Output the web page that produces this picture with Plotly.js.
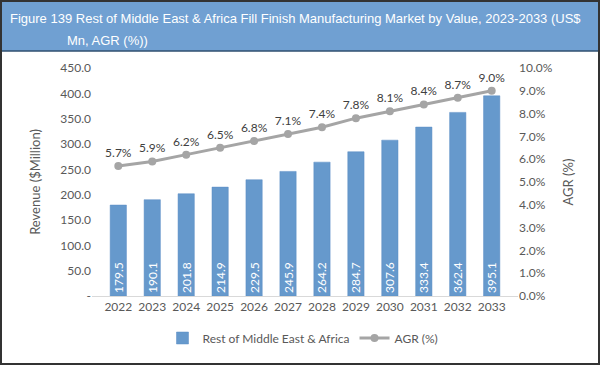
<!DOCTYPE html>
<html>
<head>
<meta charset="utf-8">
<script src="https://cdn.plot.ly/plotly-3.0.1.min.js"></script>
<style>html,body{margin:0;padding:0;background:#fff;}#chart{width:600px;height:365px;}</style>
</head>
<body>
<div id="chart"></div>
<script>
const years = ['2022','2023','2024','2025','2026','2027','2028','2029','2030','2031','2032','2033'];
const revenue = [179.5, 190.1, 201.8, 214.9, 229.5, 245.9, 264.2, 284.7, 307.6, 333.4, 362.4, 395.1];
const agr = [5.7, 5.9, 6.2, 6.5, 6.8, 7.1, 7.4, 7.8, 8.1, 8.4, 8.7, 9.0];
const leftTicks = [0, 50, 100, 150, 200, 250, 300, 350, 400, 450];
const leftTickText = ['-', '50.0', '100.0', '150.0', '200.0', '250.0', '300.0', '350.0', '400.0', '450.0'];
const rightTicks = [0,1,2,3,4,5,6,7,8,9,10];
const rightTickText = ['0.0%','1.0%','2.0%','3.0%','4.0%','5.0%','6.0%','7.0%','8.0%','9.0%','10.0%'];
const titleLine1 = 'Figure 139 Rest of Middle East & Africa Fill Finish Manufacturing Market by Value, 2023-2033 (US$';
const titleLine2 = 'Mn, AGR (%))';

const W = 600, H = 365;
const m = {l: 92, r: 82, t: 68, b: 69};
const pw = W - m.l - m.r, ph = H - m.t - m.b;
const px = x => (x - m.l) / pw;
const py = y => (H - m.b - y) / ph;

const fam = 'Lato, "Noto Sans", sans-serif';
const tickFont = {family: fam, size: 12, color: '#595959'};

const bars = {
  type: 'bar', x: years, y: revenue, name: 'Rest of Middle East & Africa',
  marker: {color: '#6699cc', line: {color: '#5b8dc4', width: 0.5}},
  width: 0.48,
  text: revenue.map(v => v.toFixed(1)), textposition: 'inside', insidetextanchor: 'start',
  textangle: -90, constraintext: 'none',
  textfont: {family: fam, size: 12, color: '#ffffff'},
  hoverinfo: 'skip'
};
const line = {
  type: 'scatter', x: years, y: agr, yaxis: 'y2', name: 'AGR (%)',
  mode: 'lines+markers+text',
  line: {color: '#a5a5a5', width: 3},
  marker: {color: '#a5a5a5', size: 8},
  text: agr.map(v => v.toFixed(1) + '%'), textposition: 'top center',
  textfont: {family: fam, size: 12, color: '#404040'},
  cliponaxis: false, hoverinfo: 'skip'
};

const layout = {
  width: W, height: H, margin: m,
  paper_bgcolor: '#ffffff', plot_bgcolor: '#ffffff',
  showlegend: true,
  uniformtext: {minsize: 11, mode: 'show'},
  legend: {orientation: 'h', x: px(303), xanchor: 'center', y: py(338), yanchor: 'middle',
           font: {family: fam, size: 12, color: '#595959'},
           itemwidth: 30, traceorder: 'normal'},
  xaxis: {type: 'category', tickfont: tickFont, showgrid: false, zeroline: false,
          showline: true, linecolor: '#d9d9d9', linewidth: 1, ticks: '', fixedrange: true},
  yaxis: {range: [0, 450], tickvals: leftTicks, ticktext: leftTickText, tickfont: tickFont,
          showgrid: false, zeroline: false, showline: false, ticks: '',
          title: {text: 'Revenue ($Million)', font: {family: fam, size: 13, color: '#595959'}, standoff: 16}},
  yaxis2: {range: [0, 10], overlaying: 'y', side: 'right', tickvals: rightTicks, ticktext: rightTickText,
           tickfont: tickFont, showgrid: false, zeroline: false, showline: false, ticks: '',
           title: {text: 'AGR (%)', font: {family: fam, size: 13, color: '#595959'}, standoff: 12}},
  shapes: [
    {type: 'rect', xref: 'paper', yref: 'paper', x0: px(0), x1: px(W), y0: py(51), y1: py(0),
     fillcolor: '#70a0d2', line: {width: 0}, layer: 'below'},
    {type: 'line', xref: 'paper', yref: 'paper', x0: px(0), x1: px(W), y0: py(51), y1: py(51),
     line: {color: '#2f4f6f', width: 1.5}},
    {type: 'rect', xref: 'paper', yref: 'paper', x0: px(1), x1: px(W - 1), y0: py(H - 1), y1: py(1),
     fillcolor: 'rgba(0,0,0,0)', line: {color: '#333333', width: 2}}
  ],
  annotations: [
    {xref: 'paper', yref: 'paper', x: px(8), y: py(18), xanchor: 'left', yanchor: 'middle', showarrow: false,
     text: titleLine1, font: {family: 'Arial, "Liberation Sans", sans-serif', size: 13, color: '#ffffff'}},
    {xref: 'paper', yref: 'paper', x: px(65), y: py(41), xanchor: 'left', yanchor: 'middle', showarrow: false,
     text: titleLine2, font: {family: 'Arial, "Liberation Sans", sans-serif', size: 13, color: '#ffffff'}}
  ]
};

Plotly.newPlot('chart', [bars, line], layout, {staticPlot: true, displayModeBar: false});
</script>
</body>
</html>
